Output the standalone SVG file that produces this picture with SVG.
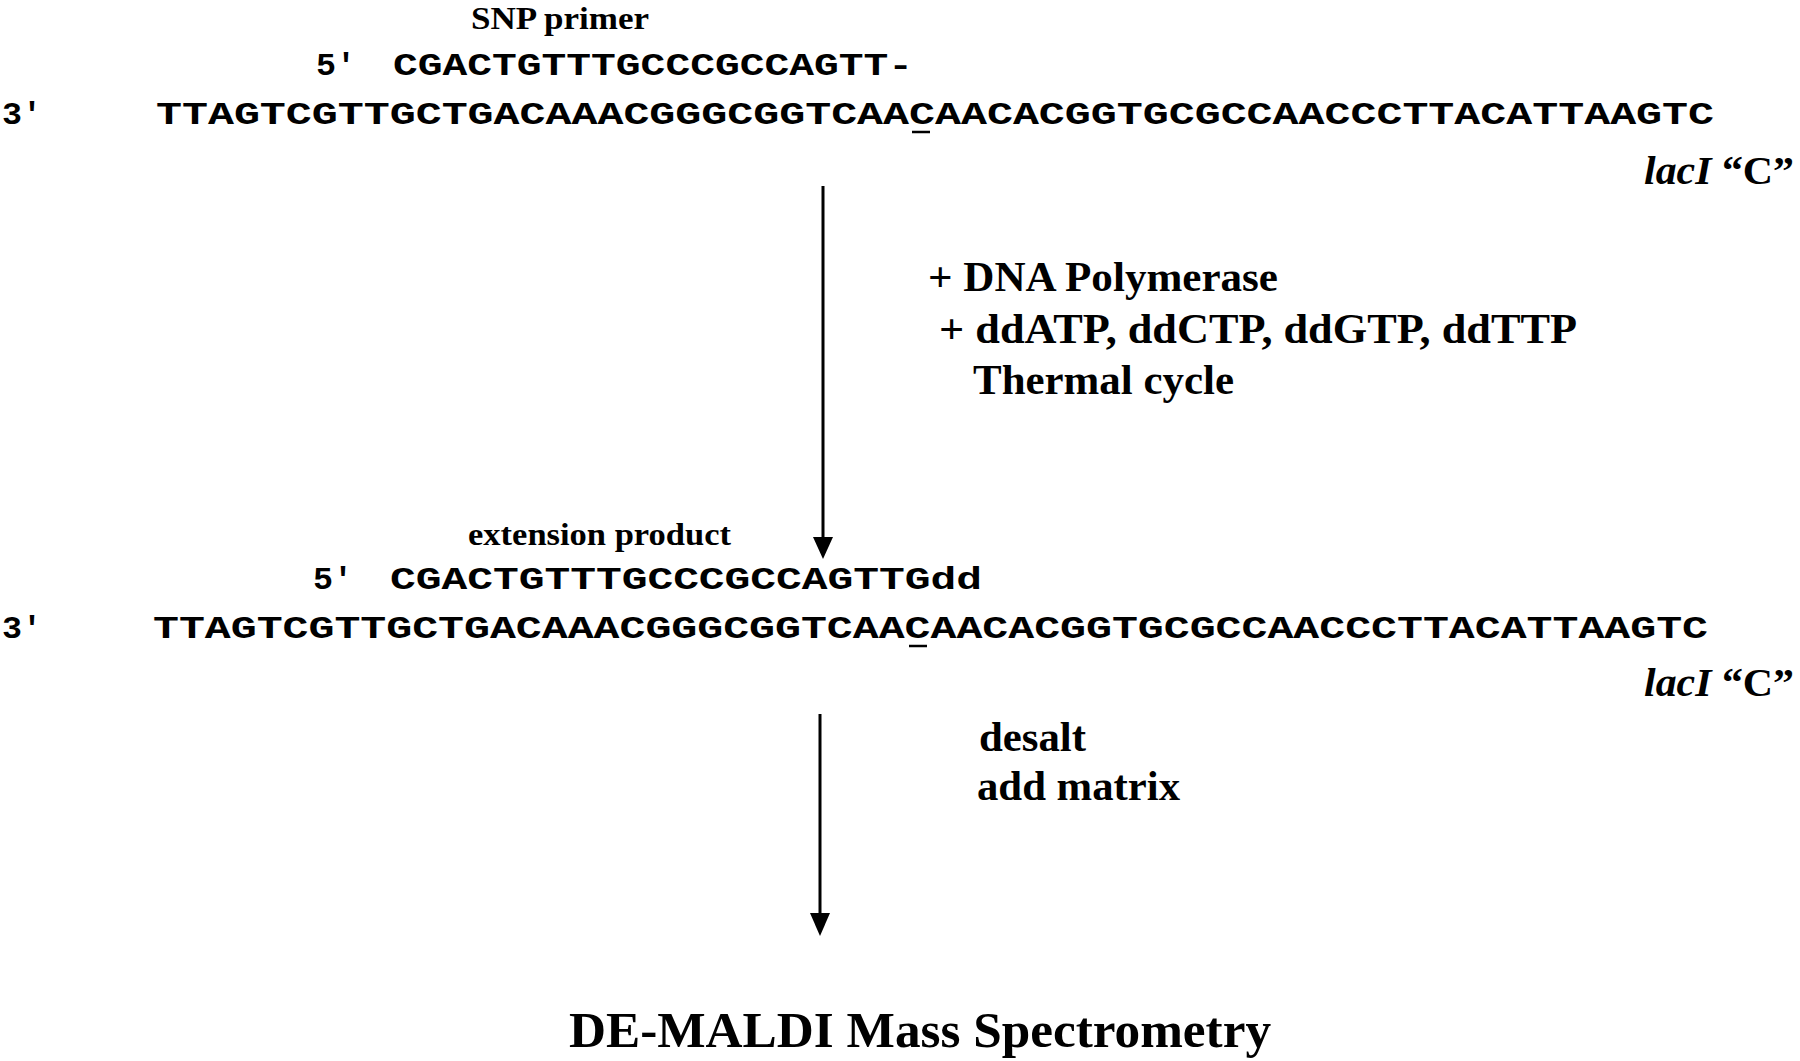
<svg xmlns="http://www.w3.org/2000/svg" width="1800" height="1061" viewBox="0 0 1800 1061">
<style>
.seq{font-family:"Liberation Mono","Courier New",monospace;font-weight:bold;font-size:32px;fill:#000}
.lbl{font-family:"Liberation Serif","Times New Roman",serif;font-weight:bold;fill:#000}
.it{font-style:italic}
</style>
<rect width="1800" height="1061" fill="#fff"/>
<g id="step1">
<text class="lbl" x="471" y="29" font-size="32" textLength="178" lengthAdjust="spacingAndGlyphs">SNP primer</text>
<text class="seq" x="316" y="75" textLength="40" lengthAdjust="spacingAndGlyphs">5′</text>
<text class="seq" x="393" y="75" textLength="520" lengthAdjust="spacingAndGlyphs">CGACTGTTTGCCCGCCAGTT-</text>
<text class="seq" x="2" y="124" textLength="40" lengthAdjust="spacingAndGlyphs">3′</text>
<text class="seq" x="156" y="124" textLength="1558" lengthAdjust="spacingAndGlyphs">TTAGTCGTTGCTGACAAACGGGCGGTCAACAACACGGTGCGCCAACCCTTACATTAAGTC</text>
<line x1="912" y1="132" x2="930" y2="132" stroke="#000" stroke-width="2.5"/>
<text class="lbl" x="1644" y="184" font-size="41" textLength="150" lengthAdjust="spacingAndGlyphs"><tspan class="it">lacI</tspan> “C”</text>
</g>
<g id="conditions1">
<text class="lbl" x="928" y="291" font-size="42" textLength="350" lengthAdjust="spacingAndGlyphs">+ DNA Polymerase</text>
<text class="lbl" x="939" y="343" font-size="42" textLength="638" lengthAdjust="spacingAndGlyphs">+ ddATP, ddCTP, ddGTP, ddTTP</text>
<text class="lbl" x="973" y="394" font-size="42" textLength="261" lengthAdjust="spacingAndGlyphs">Thermal cycle</text>
</g>
<g id="step2">
<text class="lbl" x="468" y="545" font-size="32" textLength="263" lengthAdjust="spacingAndGlyphs">extension product</text>
<text class="seq" x="313" y="589" textLength="40" lengthAdjust="spacingAndGlyphs">5′</text>
<text class="seq" x="390" y="589" textLength="592" lengthAdjust="spacingAndGlyphs">CGACTGTTTGCCCGCCAGTTGdd</text>
<text class="seq" x="2" y="638" textLength="40" lengthAdjust="spacingAndGlyphs">3′</text>
<text class="seq" x="153" y="638" textLength="1555" lengthAdjust="spacingAndGlyphs">TTAGTCGTTGCTGACAAACGGGCGGTCAACAACACGGTGCGCCAACCCTTACATTAAGTC</text>
<line x1="909" y1="646" x2="927" y2="646" stroke="#000" stroke-width="2.5"/>
<text class="lbl" x="1644" y="696" font-size="41" textLength="150" lengthAdjust="spacingAndGlyphs"><tspan class="it">lacI</tspan> “C”</text>
</g>
<g id="conditions2">
<text class="lbl" x="979" y="751" font-size="42" textLength="107" lengthAdjust="spacingAndGlyphs">desalt</text>
<text class="lbl" x="977" y="800" font-size="42" textLength="203" lengthAdjust="spacingAndGlyphs">add matrix</text>
</g>
<g id="result">
<text class="lbl" x="569" y="1047" font-size="51" textLength="702" lengthAdjust="spacingAndGlyphs">DE-MALDI Mass Spectrometry</text>
</g>
<g id="connectors" stroke="#000" stroke-width="3" fill="none">
<line x1="823" y1="186" x2="823" y2="540"/>
<path d="M813,537 L833,537 L823,559 Z" fill="#000" stroke="none"/>
<line x1="820" y1="714" x2="820" y2="916"/>
<path d="M810,913 L830,913 L820,936 Z" fill="#000" stroke="none"/>
</g>
</svg>
